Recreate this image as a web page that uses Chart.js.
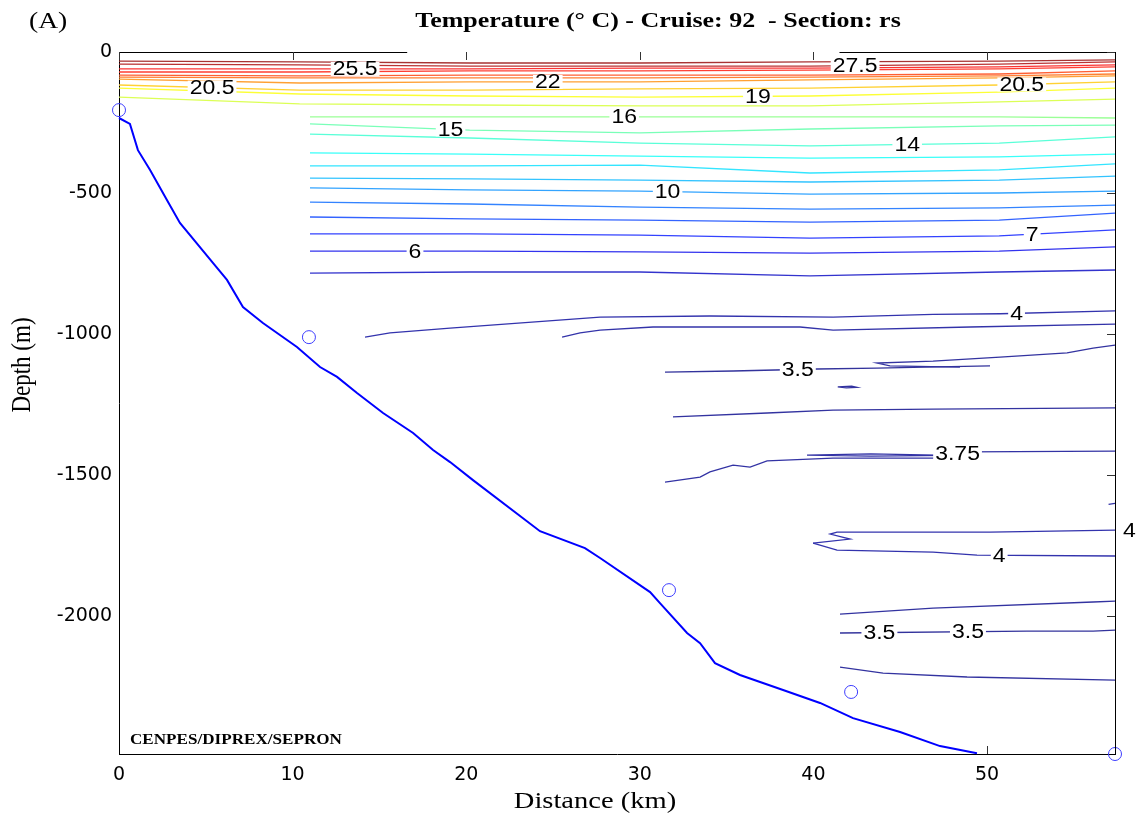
<!DOCTYPE html>
<html>
<head>
<meta charset="utf-8">
<title>Temperature section</title>
<script src="https://cdn.jsdelivr.net/npm/chart.js@4.4.1/dist/chart.umd.min.js"></script>
<style>
  body { margin: 0; background: #fff; }
  canvas { display: block; }
</style>
</head>
<body>
<canvas id="section" width="1146" height="816"></canvas>
<script>
// axis ticks
const distTicks  = [0, 10, 20, 30, 40, 50];
const depthTicks = [0, -500, -1000, -1500, -2000];

// distance nodes (km) for the isotherms
const distTop = [0, 10.4, 20.2, 30, 39.8, 50.7, 57.37];
const distMid = [11, 20.2, 30, 39.8, 50.7, 57.37];

// surface layer, depth (m) at distTop
const iso28   = [-32, -35, -39, -39, -35, -32, -28];
const iso27_5 = [-43, -46, -50, -50, -50, -43, -35];
const iso25_5 = [-60, -60, -60, -57, -57, -53, -46];
const iso25   = [-71, -71, -67, -67, -64, -60, -53];
const iso24   = [-82, -85, -82, -82, -82, -78, -67];
const iso23   = [-89, -92, -92, -92, -89, -85, -78];
const iso22   = [-96, -110, -106, -106, -99, -92, -85];
const iso20_5 = [-117, -135, -135, -131, -128, -117, -106];
const iso19   = [-128, -149, -156, -160, -156, -142, -128];
const iso18   = [-160, -184, -188, -191, -191, -177, -167];

// thermocline, depth (m) at distMid
const iso16 = [-230, -230, -230, -230, -230, -234];
const iso15 = [-255, -277, -287, -273, -262, -259];
const iso14 = [-291, -305, -323, -333, -323, -301];
const iso13 = [-358, -362, -369, -376, -372, -362];
const iso12 = [-404, -404, -401, -429, -418, -397];
const iso11 = [-447, -450, -454, -461, -454, -440];
const iso10 = [-482, -489, -493, -504, -500, -493];
const iso9  = [-532, -539, -550, -557, -553, -543];
const iso8  = [-585, -592, -596, -603, -596, -571];
const iso7  = [-645, -645, -649, -660, -652, -631];
const iso6  = [-706, -706, -709, -713, -706, -691];
const iso5  = [-784, -780, -780, -794, -780, -773];

// deep water isotherms, each with its own distances
const iso4Dist  = [14.17, 15.61, 19.07, 27.71, 34.04, 41.13, 46.89, 50.75, 57.37];
const iso4Depth = [-1011, -996, -979, -940, -936, -940, -930, -928, -918];
const iso3_9Dist  = [25.52, 26.56, 27.71, 30.76, 39.23, 41.13, 49.02, 57.37];
const iso3_9Depth = [-1011, -996, -986, -975, -975, -986, -975, -965];
const tongueDist  = [57.37, 56.11, 54.61, 50.75, 46.89, 43.66, 44.41, 48.44];
const tongueDepth = [-1039, -1050, -1067, -1082, -1096, -1103, -1113, -1117];
const iso3_5aDist  = [31.45, 35.37, 40.21, 43.66, 46.43, 50.17];
const iso3_5aDepth = [-1135, -1131, -1124, -1121, -1117, -1113];
const blobDist  = [41.4, 42.2, 42.5, 41.9, 41.4];
const blobDepth = [-1187, -1185, -1189, -1191, -1187];
const iso3_6Dist  = [31.91, 37.33, 41.13, 46.89, 57.37];
const iso3_6Depth = [-1294, -1280, -1270, -1266, -1262];
const iso3_75Dist  = [31.45, 33.47, 34.04, 35.37, 36.35, 37.33, 41.13, 46.89, 48.85, 57.37];
const iso3_75Depth = [-1525, -1507, -1489, -1465, -1472, -1450, -1440, -1440, -1418, -1415];
const sliverDist  = [39.63, 43.3, 47.87, 43.3, 39.63];
const sliverDepth = [-1429, -1425, -1430, -1433, -1429];
const edgeDist  = [57.0, 57.37];
const edgeDepth = [-1604, -1600];
const iso4UpDist  = [57.37, 50.17, 41.36, 40.96, 42.11, 39.98];
const iso4UpDepth = [-1695, -1702, -1702, -1709, -1727, -1741];
const iso4LowDist  = [39.98, 41.36, 46.89, 49.42, 57.37];
const iso4LowDepth = [-1741, -1766, -1773, -1784, -1787];
const iso3_6bDist  = [41.53, 46.89, 56.11, 57.37];
const iso3_6bDepth = [-1993, -1972, -1950, -1947];
const iso3_5bDist  = [41.53, 52.3, 56.11, 57.37];
const iso3_5bDepth = [-2060, -2053, -2053, -2050];
const iso3_6cDist  = [41.53, 44.01, 48.85, 57.37];
const iso3_6cDepth = [-2181, -2202, -2216, -2227];

// sea floor and CTD stations
const bottomDist  = [0, 0.63, 1.09, 1.79, 2.76, 3.51, 5.41, 6.22, 7.14, 8.29, 10.25, 11.58, 12.56, 13.71, 15.21, 16.94, 18.09, 19.07, 20.39, 24.25, 26.84, 27.71, 30.59, 31.16, 32.72, 33.47, 34.33, 35.77, 38.25, 40.38, 42.28, 44.99, 47.29, 49.42];
const bottomDepth = [-234, -255, -348, -418, -525, -606, -748, -808, -904, -961, -1046, -1117, -1152, -1209, -1280, -1351, -1411, -1454, -1518, -1699, -1759, -1794, -1915, -1954, -2060, -2096, -2167, -2209, -2262, -2308, -2362, -2411, -2461, -2486];
const stationDist  = [0, 10.94, 31.68, 42.17, 57.37];
const stationDepth = [-206, -1011, -1908, -2269, -2489];

// inline labels: which isotherm, at what distance
const labelLine = ['iso25_5', 'iso27_5', 'iso22', 'iso20_5', 'iso20_5', 'iso19', 'iso16', 'iso15', 'iso14', 'iso10', 'iso7', 'iso6', 'iso4', 'iso3_5a', 'iso3_75', 'iso4Up', 'iso4Low', 'iso3_5b', 'iso3_5b'];
const labelDist = [13.6, 42.4, 24.7, 5.36, 52.0, 36.8, 29.1, 19.1, 45.4, 31.6, 52.6, 17.05, 51.7, 39.1, 48.3, 58.2, 50.7, 43.8, 48.9];

const isotherms = {
  iso28:   { level: 28,   dist: distTop, depth: iso28 },
  iso27_5: { level: 27.5, dist: distTop, depth: iso27_5 },
  iso25_5: { level: 25.5, dist: distTop, depth: iso25_5 },
  iso25:   { level: 25,   dist: distTop, depth: iso25 },
  iso24:   { level: 24,   dist: distTop, depth: iso24 },
  iso23:   { level: 23,   dist: distTop, depth: iso23 },
  iso22:   { level: 22,   dist: distTop, depth: iso22 },
  iso20_5: { level: 20.5, dist: distTop, depth: iso20_5 },
  iso19:   { level: 19,   dist: distTop, depth: iso19 },
  iso18:   { level: 18,   dist: distTop, depth: iso18 },
  iso16:   { level: 16,   dist: distMid, depth: iso16 },
  iso15:   { level: 15,   dist: distMid, depth: iso15 },
  iso14:   { level: 14,   dist: distMid, depth: iso14 },
  iso13:   { level: 13,   dist: distMid, depth: iso13 },
  iso12:   { level: 12,   dist: distMid, depth: iso12 },
  iso11:   { level: 11,   dist: distMid, depth: iso11 },
  iso10:   { level: 10,   dist: distMid, depth: iso10 },
  iso9:    { level: 9,    dist: distMid, depth: iso9 },
  iso8:    { level: 8,    dist: distMid, depth: iso8 },
  iso7:    { level: 7,    dist: distMid, depth: iso7 },
  iso6:    { level: 6,    dist: distMid, depth: iso6 },
  iso5:    { level: 5,    dist: distMid, depth: iso5 },
  iso4:    { level: 4,    dist: iso4Dist, depth: iso4Depth },
  iso3_9:  { level: 3.9,  dist: iso3_9Dist, depth: iso3_9Depth },
  tongue:  { level: 3.6,  dist: tongueDist, depth: tongueDepth },
  iso3_5a: { level: 3.5,  dist: iso3_5aDist, depth: iso3_5aDepth },
  blob:    { level: 3.6,  dist: blobDist, depth: blobDepth },
  iso3_6:  { level: 3.6,  dist: iso3_6Dist, depth: iso3_6Depth },
  iso3_75: { level: 3.75, dist: iso3_75Dist, depth: iso3_75Depth },
  sliver:  { level: 3.8,  dist: sliverDist, depth: sliverDepth },
  edge:    { level: 3.8,  dist: edgeDist, depth: edgeDepth },
  iso4Up:  { level: 4,    dist: iso4UpDist, depth: iso4UpDepth },
  iso4Low: { level: 4,    dist: iso4LowDist, depth: iso4LowDepth },
  iso3_6b: { level: 3.6,  dist: iso3_6bDist, depth: iso3_6bDepth },
  iso3_5b: { level: 3.5,  dist: iso3_5bDist, depth: iso3_5bDepth },
  iso3_6c: { level: 3.6,  dist: iso3_6cDist, depth: iso3_6cDepth }
};

// matlab style jet colormap over the temperature range, washed a bit towards white
function jet(v) {
  const t = (v - 3.4) / (28.5 - 3.4);
  const c = k => {
    const f = Math.max(0, Math.min(1, 1.5 - Math.abs(4 * t - k)));
    return Math.round(255 * (0.2 + 0.8 * f));
  };
  return 'rgb(' + c(3) + ',' + c(2) + ',' + c(1) + ')';
}

const toPoints = (xs, ys) => xs.map((d, i) => ({ x: d, y: ys[i] }));

// depth of an isotherm at a given distance (nearest end if off the line)
function depthAt(c, d) {
  for (let i = 0; i < c.dist.length - 1; i++) {
    const a = c.dist[i], b = c.dist[i + 1];
    if (a !== b && (d - a) * (d - b) <= 0) {
      return c.depth[i] + (c.depth[i + 1] - c.depth[i]) * (d - a) / (b - a);
    }
  }
  let best = 0;
  c.dist.forEach((v, i) => { if (Math.abs(v - d) < Math.abs(c.dist[best] - d)) best = i; });
  return c.depth[best];
}

const datasets = Object.values(isotherms).map(c => ({
  data: toPoints(c.dist, c.depth),
  borderColor: jet(c.level),
  borderWidth: 1.3,
  showLine: true,
  pointRadius: 0,
  tension: 0
}));
datasets.push({
  data: toPoints(bottomDist, bottomDepth),
  borderColor: '#0000ff',
  borderWidth: 2,
  showLine: true,
  pointRadius: 0,
  clip: false
});
datasets.push({
  data: toPoints(stationDist, stationDepth),
  showLine: false,
  pointRadius: 6.5,
  pointBorderColor: '#3c3cff',
  pointBackgroundColor: 'rgba(255,255,255,0)',
  pointBorderWidth: 1,
  clip: false
});

function stretchedText(ctx, txt, x, y, font, sx, align) {
  ctx.save();
  ctx.translate(x, y);
  ctx.scale(sx, 1);
  ctx.font = font;
  ctx.textAlign = align;
  ctx.textBaseline = 'alphabetic';
  ctx.fillStyle = '#000';
  ctx.fillText(txt, 0, 0);
  ctx.restore();
}

const sectionDecor = {
  id: 'sectionDecor',
  afterDatasetsDraw(chart) {
    // contour labels, each one cutting a gap in its line
    const { ctx, scales: { x, y } } = chart;
    ctx.save();
    ctx.font = '20px "Liberation Sans"';
    labelLine.forEach((key, i) => {
      const c = isotherms[key];
      const d = labelDist[i];
      const px = x.getPixelForValue(d);
      const py = y.getPixelForValue(depthAt(c, d));
      const txt = String(c.level);
      const w = ctx.measureText(txt).width * 1.15;
      ctx.fillStyle = '#fff';
      ctx.fillRect(px - w / 2 - 2, py - 7, w + 4, 14);
      ctx.save();
      ctx.translate(px, py);
      ctx.scale(1.15, 1);
      ctx.fillStyle = '#000';
      ctx.textAlign = 'center';
      ctx.textBaseline = 'middle';
      ctx.fillText(txt, 0, 1);
      ctx.restore();
    });
    ctx.restore();
  },
  afterDraw(chart) {
    const { ctx, chartArea: { left, right, top, bottom }, scales: { x, y } } = chart;
    const seg = (x1, y1, x2, y2) => { ctx.beginPath(); ctx.moveTo(x1, y1); ctx.lineTo(x2, y2); ctx.stroke(); };
    ctx.save();
    ctx.strokeStyle = '#000';
    ctx.lineWidth = 1;
    // right edge and the broken top edge of the box
    seg(right + 0.5, top, right + 0.5, bottom + 1);
    seg(left, top + 0.5, x.getPixelForValue(16.6), top + 0.5);
    seg(x.getPixelForValue(41.5), top + 0.5, right + 1, top + 0.5);
    // inward ticks; the sea floor hides the bottom ones under it
    ctx.strokeStyle = '#333';
    distTicks.forEach(v => {
      const p = Math.round(x.getPixelForValue(v)) + 0.5;
      seg(p, top, p, top + 8);
      if (v > bottomDist[bottomDist.length - 1]) seg(p, bottom, p, bottom - 8);
    });
    depthTicks.forEach(v => {
      const p = Math.round(y.getPixelForValue(v)) + 0.5;
      seg(right - 8, p, right, p);
    });
    ctx.restore();

    stretchedText(ctx, 'Temperature (\u00B0 C) - Cruise: 92  - Section: rs', 658, 27, 'bold 22px "Liberation Serif"', 1.18, 'center');
    stretchedText(ctx, '(A)', 29, 28, '23px "Liberation Serif"', 1.2, 'left');
    stretchedText(ctx, 'Distance (km)', 595, 808, '23px "Liberation Serif"', 1.24, 'center');
    stretchedText(ctx, 'CENPES/DIPREX/SEPRON', 130, 744, 'bold 15px "Liberation Serif"', 1.14, 'left');

    ctx.save();
    ctx.translate(30, 365);
    ctx.rotate(-Math.PI / 2);
    ctx.scale(1, 1.2);
    ctx.font = '23px "Liberation Serif"';
    ctx.textAlign = 'center';
    ctx.fillStyle = '#000';
    ctx.fillText('Depth (m)', 0, 0);
    ctx.restore();
  }
};

new Chart(document.getElementById('section'), {
  type: 'scatter',
  data: { datasets },
  options: {
    responsive: false,
    animation: false,
    devicePixelRatio: 1,
    layout: { padding: { top: 52, right: 31, left: 0, bottom: 0 } },
    plugins: { legend: { display: false }, tooltip: { enabled: false } },
    scales: {
      x: {
        type: 'linear',
        min: 0,
        max: 57.37,
        grid: { display: false, drawTicks: false },
        border: { display: true, color: '#000', width: 1 },
        ticks: { autoSkip: false, padding: 10, color: '#000', font: { family: 'DejaVu Sans', size: 19 },
                 callback: v => String(v) },
        afterBuildTicks: s => { s.ticks = distTicks.map(v => ({ value: v })); },
        afterFit: s => { s.height = 62; }
      },
      y: {
        type: 'linear',
        min: -2489,
        max: 0,
        grid: { display: false, drawTicks: false },
        border: { display: true, color: '#000', width: 1 },
        ticks: { autoSkip: false, padding: 7, color: '#000', font: { family: 'DejaVu Sans', size: 19 },
                 callback: v => String(v) },
        afterBuildTicks: s => { s.ticks = depthTicks.map(v => ({ value: v })); },
        afterFit: s => { s.width = 119; }
      }
    }
  },
  plugins: [sectionDecor]
});
</script>
</body>
</html>
